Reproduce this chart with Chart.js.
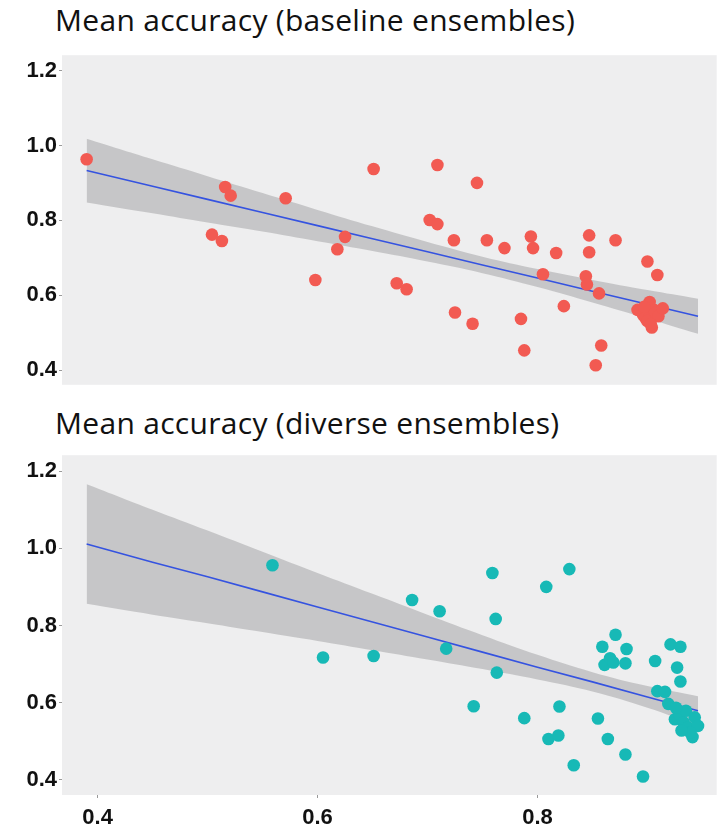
<!DOCTYPE html>
<html>
<head>
<meta charset="utf-8">
<script src="https://cdn.jsdelivr.net/npm/chart.js@4.4.1/dist/chart.umd.min.js"></script>
<style>
  html, body { margin:0; padding:0; background:#ffffff; width:723px; height:832px; overflow:hidden; }
  .title { position:absolute; left:55px; font-family:"Open Sans","Noto Sans",sans-serif; font-size:30px; color:#111; white-space:nowrap; letter-spacing:0.3px; line-height:1; }
  .wrap { position:absolute; left:0; width:723px; }
</style>
</head>
<body>
<div class="title" id="t1" style="top:5px;">Mean accuracy (baseline ensembles)</div>
<div class="wrap" style="top:40px;height:360px;"><canvas id="c1" width="723" height="360"></canvas></div>
<div class="title" id="t2" style="top:408px;">Mean accuracy (diverse ensembles)</div>
<div class="wrap" style="top:440px;height:392px;"><canvas id="c2" width="723" height="392"></canvas></div>
<script>
// ---------- data ----------
const yTicks = [0.4, 0.6, 0.8, 1.0, 1.2];
const xTicks = [0.4, 0.6, 0.8];

// baseline ensembles (red)
const baseX = [0.390,0.516,0.521,0.504,0.513,0.571,0.598,0.618,0.625,0.651,0.672,0.681,0.709,0.702,0.709,0.724,0.725,0.745,0.741,0.754,0.770,0.785,0.788,0.794,0.796,0.805,0.817,0.824,0.847,0.847,0.844,0.845,0.856,0.858,0.853,0.871,0.900,0.909,0.891,0.896,0.898,0.902,0.900,0.904,0.906,0.902,0.910,0.914,0.897,0.903];
const baseY = [0.963,0.889,0.866,0.762,0.745,0.859,0.641,0.723,0.756,0.937,0.632,0.616,0.948,0.801,0.790,0.747,0.554,0.900,0.524,0.747,0.726,0.537,0.453,0.757,0.726,0.656,0.713,0.571,0.760,0.715,0.651,0.629,0.605,0.466,0.413,0.747,0.690,0.654,0.561,0.548,0.540,0.552,0.531,0.514,0.561,0.582,0.544,0.565,0.569,0.523];

// diverse ensembles (teal)
const divX = [0.559,0.605,0.651,0.686,0.711,0.717,0.742,0.759,0.762,0.763,0.788,0.808,0.810,0.819,0.820,0.829,0.833,0.855,0.859,0.864,0.871,0.861,0.866,0.869,0.880,0.881,0.880,0.896,0.907,0.909,0.916,0.921,0.930,0.927,0.930,0.919,0.925,0.929,0.933,0.937,0.941,0.935,0.943,0.946,0.939,0.931,0.926];
const divY = [0.956,0.717,0.721,0.866,0.837,0.740,0.591,0.936,0.817,0.678,0.560,0.900,0.506,0.515,0.590,0.946,0.438,0.559,0.745,0.506,0.776,0.698,0.715,0.704,0.466,0.739,0.702,0.409,0.708,0.630,0.628,0.751,0.745,0.691,0.655,0.597,0.557,0.570,0.549,0.536,0.511,0.579,0.562,0.540,0.523,0.528,0.587];

// fitted line and confidence band
const fitX = [0.39,0.45,0.5,0.55,0.6,0.65,0.7,0.75,0.8,0.85,0.9,0.946];
const baseFit   = [0.933,0.891,0.856,0.821,0.786,0.751,0.716,0.681,0.646,0.611,0.576,0.544];
const baseUpper = [1.018,0.963,0.918,0.873,0.828,0.784,0.742,0.703,0.670,0.641,0.614,0.591];
const baseLower = [0.848,0.819,0.794,0.770,0.744,0.718,0.690,0.659,0.622,0.581,0.538,0.497];
const divFit    = [1.011,0.964,0.926,0.887,0.848,0.809,0.770,0.731,0.692,0.654,0.615,0.579];
const divUpper  = [1.166,1.100,1.046,0.991,0.936,0.882,0.828,0.775,0.724,0.679,0.643,0.617];
const divLower  = [0.856,0.828,0.806,0.783,0.760,0.736,0.712,0.687,0.660,0.629,0.587,0.541];

// ---------- helpers ----------
const zip = (xs, ys) => xs.map((x, i) => ({x, y: ys[i]}));
const tickFont = {family:'"Liberation Sans",Arial,sans-serif', size:22, weight:'bold'};

const panelBg = {
  id:'panelBg',
  beforeDraw(chart){
    const {ctx, chartArea:a} = chart;
    ctx.save();
    ctx.fillStyle = '#eeeeef';
    ctx.fillRect(a.left, a.top, a.right - a.left, a.bottom - a.top);
    ctx.restore();
  }
};

function makeChart(id, xs, ys, color, fit, up, lo, showX, padTop) {
  new Chart(document.getElementById(id), {
    type:'scatter',
    data:{
      datasets:[
        {type:'line', data:zip(fitX, up), borderWidth:0, pointRadius:0, fill:false, order:3, tension:0.4},
        {type:'line', data:zip(fitX, lo), borderWidth:0, pointRadius:0, fill:'-1', backgroundColor:'rgba(155,155,157,0.48)', order:3, tension:0.4},
        {type:'line', data:zip(fitX, fit), borderColor:'#3553e0', borderWidth:1.6, pointRadius:0, fill:false, order:2},
        {data:zip(xs, ys), backgroundColor:color, borderColor:color, pointRadius:6.3, borderWidth:0, order:1}
      ]
    },
    options:{
      responsive:false, animation:false,
      layout:{padding:{top:padTop, right:0, bottom: showX ? 0 : 8, left:0}},
      plugins:{legend:{display:false}, tooltip:{enabled:false}},
      scales:{
        x:{
          type:'linear', min:0.3676, max:0.963,
          display: showX,
          border:{display:false},
          grid:{display:showX, drawOnChartArea:false, tickLength:3, color:'#999'},
          ticks:{font:tickFont, color:'#111', padding:7},
          afterBuildTicks(s){ s.ticks = xTicks.map(v => ({value:v})); },
          afterFit(s){ if (showX) s.height = 37; }
        },
        y:{
          type:'linear', min:0.361, max:1.241,
          border:{display:false},
          grid:{drawOnChartArea:false, tickLength:3, color:'#999'},
          ticks:{font:tickFont, color:'#111', padding:2, callback:v => v.toFixed(1)},
          afterBuildTicks(s){ s.ticks = yTicks.map(v => ({value:v})); },
          afterFit(s){ s.width = 62; }
        }
      }
    },
    plugins:[panelBg]
  });
}

makeChart('c1', baseX, baseY, '#f25a52', baseFit, baseUpper, baseLower, false, 10);
makeChart('c2', divX, divY, '#17b9b6', divFit, divUpper, divLower, true, 15);
</script>
</body>
</html>
